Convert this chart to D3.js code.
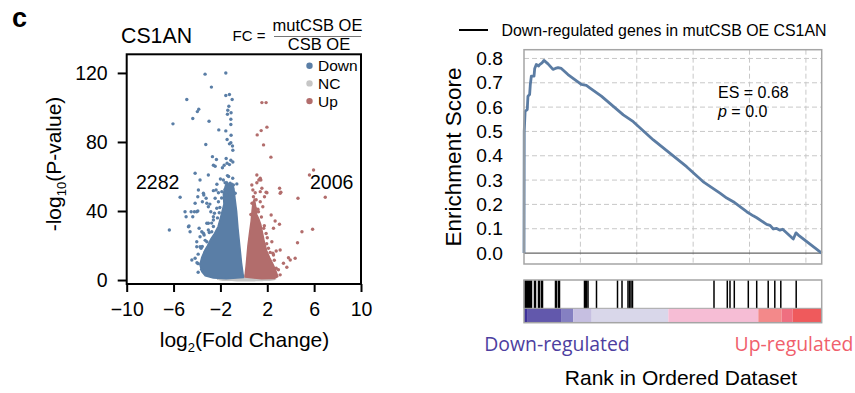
<!DOCTYPE html>
<html>
<head>
<meta charset="utf-8">
<script src="https://cdn.jsdelivr.net/npm/d3@7"></script>
<style>
  body { margin: 0; background: #fff; }
  svg { font-family: "Liberation Sans", Arial, sans-serif; }
</style>
</head>
<body>
<script>
// ---------- volcano data (log2 FC, -log10 p) ----------
var downCount = 2282, upCount = 2006;

var downPoints = [
  [-3.31,119.3],[-1.54,120],[-2.77,111.8],[-4.87,104.6],[-1.54,106.9],[-1.23,107.5],[-1.0,104.6],
  [-3.85,99],[-3.97,97.6],[-1.28,100.7],[-1.37,98.4],[-1.09,96.9],[-1.4,96.1],[-4.36,93.6],
  [-2.97,92],[-6.05,90.5],[-1.11,93.2],[-1.11,90.1],[-2.14,87],[-1.54,86.4],[-1.09,83.9],
  [-1.43,81.4],[-1.11,79.6],[-1.23,78.9],[-0.97,77.7],[-3.25,78.5],[-0.94,75.2],[-2.68,71.5],
  [-2.34,69.8],[-1.51,70.4],[-1.11,69.4],[-0.94,68.4],[-2.6,66.5],[-2.45,65.9],[-1.68,66.5],
  [-1.83,65.1],[-1.43,67.7],[-1.23,66.9],[-4.16,61.9],[-3.03,60.9],[-3.74,58],[-1.6,56.4],
  [-1.17,56.1],[-0.89,55.1],[-0.6,55.7],[-2.6,51.8],[-2.17,50.6],[-1.88,51.2],[-2.37,52.2],
  [-3.88,52.2],[-3.45,50.3],[-5.44,48],[-1.45,49.3],[-1.03,48.3],[-0.74,50.3],[-6.36,29],
  [-4.93,36.7],[-4.5,39.6],[-4.22,39.6],[-3.93,40],[-4.73,30.9],[-4.59,28],[-3.93,48.3],
  [-3.42,49.3],[-3.22,47.4],[-3.54,45.4],[-3.16,44.5],[-3.03,42.5],[-4.68,31.3],[-4.36,36.7],
  [-4.02,39.6],[-4.44,11.6],[-5.02,39.6],[-4.16,44.5],[-4.02,22.2],[-3.74,19.3],[-3.39,26.1],
  [-3.59,28],[-3.03,29],[-3.16,32.9],[-2.6,36.7],[-2.82,39.6],[-3.82,30],[-3.45,27.1],
  [-3.74,25.1],[-4.02,19.3],[-3.65,18.4],[-3.31,16.1],[-2.74,28],[-2.6,34.8],[-2.51,38.7],
  [-2.31,41.6],[-2.17,45.4],[-3.03,32.9],[-3.16,22.2],[-2.45,47.4],[-4.16,12.6],[-3.9,9.5],
  [-3.6,6.2],[-2.9,44],[-2.0,58.5],[-1.3,60],[-2.3,55.5],[-1.75,58],[-1.4,60.5],[-0.95,59],
  [-2.05,42],[-2.25,36],[-2.6,31],[-2.95,27.5],[-3.3,23],[-3.55,19.5],[-3.9,15],[-4.0,10],
  [-3.9,4.5],[-1.9,47.5],[-1.6,52.5],[-2.1,39],[-2.75,33]
];

var upPoints = [
  [1.54,102.8],[1.9,102.8],[1.97,88.6],[1.48,86.6],[1.14,84.1],[1.68,78.3],[2.31,71.2],
  [5.95,63.8],[5.6,60.9],[1.28,58],[1.11,56.4],[1.4,59],[0.68,55.1],[3.05,53.2],[0.97,50.6],
  [1.4,51.2],[1.97,50.6],[1.76,48.3],[3.1,50.3],[4.62,47.4],[6.95,48],[1.11,60.9],[1.45,58],
  [0.77,52.2],[1.54,53.2],[1.9,50.9],[0.82,48.3],[0.97,41.6],[1.4,45.4],[1.25,39.6],[1.62,42.5],
  [2.39,22.2],[2.1,18.4],[5.87,29.4],[4.96,28],[4.58,21.6],[3.04,32.3],[2.33,37.7],[2.67,34.2],
  [2.53,30],[3.1,17.4],[2.76,16.8],[2.53,14.5],[3.81,12.9],[3.96,11.6],[4.38,12.6],[3.67,7.4],
  [3.38,9.7],[2.48,15.5],[2.76,6.8],[2.39,5.8],[3.16,50.9],[1.9,27],[2.0,24.5],[1.75,31.5],
  [0.6,38],[0.7,44.5],[1.2,41],[1.5,36.5],[1.7,30],[1.95,21],[2.25,16],[2.6,11.5],[2.95,6],
  [3.1,3],[1.05,46.5]
];

// dense cores (outline of the overlapping dots)
var downCore = [
  [-0.03,1.5],[-0.2,10],[-0.35,20],[-0.5,30],[-0.62,40],[-0.75,47],[-0.85,53],[-1.0,56],
  [-1.25,55],[-1.45,57],[-1.6,54],[-1.75,50],[-1.7,44],[-1.85,40],[-2.0,36],[-2.2,31],
  [-2.5,27],[-2.8,24],[-3.1,20],[-3.35,17],[-3.6,13],[-3.75,9],[-3.6,5],[-3.3,2.5],
  [-2.6,1.2],[-1.5,0.8]
];
var upCore = [
  [0.1,1.8],[0.22,10],[0.35,20],[0.5,28],[0.62,34],[0.7,40],[0.78,45],[0.9,47],[1.0,43],
  [1.1,38],[1.3,35],[1.45,32],[1.6,27],[1.75,22],[1.95,17],[2.2,13],[2.5,9],[2.75,5],
  [2.9,2],[2.6,0.9],[1.5,0.7]
];
var ncCore = [
  [-2.3,0.2],[-1.5,1.3],[-0.6,2.6],[0,3.2],[0.6,2.4],[1.5,1.6],[2.4,0.9],[2.8,0.2],
  [2.0,-0.6],[0,-0.9],[-1.6,-0.6]
];

var volcanoXTicks = [-10, -6, -2, 2, 6, 10];
var volcanoYTicks = [0, 40, 80, 120];
var legendNames = ["Down", "NC", "Up"];

// ---------- GSEA data ----------
var nGenes = 26400;
var esRank = [0,20,100,290,350,500,560,650,890,950,1090,1300,1390,1600,1770,2130,2570,2780,3020,
  3310,3900,5080,5530,5830,6860,8806,9690,11470,14420,15870,17380,17980,18560,19750,20330,
  20640,21520,21820,22110,22410,22700,22940,23880,24120,24330,26400];
var esScore = [0,0.50,0.583,0.59,0.645,0.652,0.693,0.727,0.727,0.759,0.775,0.769,0.775,0.782,
  0.792,0.778,0.755,0.759,0.762,0.759,0.734,0.693,0.689,0.679,0.645,0.568,0.54,0.465,0.355,
  0.294,0.246,0.226,0.211,0.17,0.153,0.145,0.118,0.114,0.099,0.101,0.094,0.098,0.058,0.083,
  0.074,0];
var hitRanks = [44,133,222,310,399,488,576,665,931,1020,1286,1375,1552,1641,2793,2882,3059,
  3148,5365,5454,5543,5676,6429,8292,8691,9223,9356,9489,9622,16849,18028,18268,18649,19891,
  20636,21656,22241,22773,24138];
var heatBreaks = [0, 270, 3345, 4375, 6005, 12800, 20780, 22850, 23830, 26400];
var heatColors = ["#3e3199", "#6258ac", "#8580c2", "#c6bfe1", "#d9d7ea", "#f6bdd5",
  "#f3898a", "#ef6f80", "#ef5a5c"];
var esYTicks = [0, 0.1, 0.2, 0.3, 0.4, 0.5, 0.6, 0.7, 0.8];
var esXGrid = [5000, 10000, 15000, 20000, 25000];

var blue = "#5a7ea6", red = "#b26d6c", grey = "#c6c6c6";

var svg = d3.select("body").append("svg")
  .attr("width", 855).attr("height", 393);

// ================= volcano =================
var vx = d3.scaleLinear().domain([-10, 10]).range([126.7, 361]);
var vy = d3.scaleLinear().domain([-2.3, 130.8]).range([284, 54.3]);
var poly = d3.line().x(function(d) { return vx(d[0]); }).y(function(d) { return vy(d[1]); })
  .curve(d3.curveLinearClosed);

var vol = svg.append("g");

vol.append("path").datum(ncCore).attr("d", poly.curve(d3.curveCardinalClosed.tension(0.5)))
  .attr("fill", grey);
poly.curve(d3.curveLinearClosed);
vol.append("path").datum(downCore).attr("d", poly).attr("fill", blue)
  .attr("stroke", blue).attr("stroke-width", 1.5).attr("stroke-linejoin", "round");
vol.append("path").datum(upCore).attr("d", poly).attr("fill", red)
  .attr("stroke", red).attr("stroke-width", 1.5).attr("stroke-linejoin", "round");

vol.selectAll("circle.dn").data(downPoints).enter().append("circle")
  .attr("class", "dn")
  .attr("cx", function(d) { return vx(d[0]); })
  .attr("cy", function(d) { return vy(d[1]); })
  .attr("r", 1.7).attr("fill", blue);
vol.selectAll("circle.up").data(upPoints).enter().append("circle")
  .attr("class", "up")
  .attr("cx", function(d) { return vx(d[0]); })
  .attr("cy", function(d) { return vy(d[1]); })
  .attr("r", 1.7).attr("fill", red);

vol.append("rect")
  .attr("x", vx(-10)).attr("y", vy(130.8))
  .attr("width", vx(10) - vx(-10)).attr("height", vy(-2.3) - vy(130.8))
  .attr("fill", "none").attr("stroke", "#000").attr("stroke-width", 2);

var vxAxis = vol.append("g").attr("transform", "translate(0," + vy(-2.3) + ")")
  .call(d3.axisBottom(vx).tickValues(volcanoXTicks).tickSize(8).tickPadding(10));
var vyAxis = vol.append("g").attr("transform", "translate(" + vx(-10) + ",0)")
  .call(d3.axisLeft(vy).tickValues(volcanoYTicks).tickSize(9).tickPadding(10));
[vxAxis, vyAxis].forEach(function(a) {
  a.select(".domain").remove();
  a.selectAll(".tick line").attr("stroke", "#000").attr("stroke-width", 2);
  a.selectAll(".tick text").attr("font-size", 19.5).attr("fill", "#000")
    .attr("font-family", "Liberation Sans, Arial, sans-serif");
});

// legend
var leg = vol.append("g");
[blue, grey, red].forEach(function(c, i) {
  leg.append("circle").attr("cx", 309.5).attr("cy", 65.7 + i * 17.7).attr("r", 3.2).attr("fill", c);
  leg.append("text").attr("x", 318).attr("y", 65.7 + i * 17.7).attr("dy", "0.36em")
    .attr("font-size", 15.5).text(legendNames[i]);
});

vol.append("text").attr("x", 136).attr("y", 188.5).attr("font-size", 19.5).text(downCount);
vol.append("text").attr("x", 310).attr("y", 188.5).attr("font-size", 19.5).text(upCount);

vol.append("text").attr("x", 12).attr("y", 27).attr("font-size", 27).attr("font-weight", "bold").text("c");
vol.append("text").attr("x", 121).attr("y", 42.7).attr("font-size", 21.3).text("CS1AN");
vol.append("text").attr("x", 232.5).attr("y", 41).attr("font-size", 15).text("FC =");
vol.append("text").attr("x", 317.5).attr("y", 30.5).attr("text-anchor", "middle")
  .attr("font-size", 16.5).text("mutCSB OE");
vol.append("line").attr("x1", 274).attr("x2", 361).attr("y1", 36.5).attr("y2", 36.5)
  .attr("stroke", "#777").attr("stroke-width", 1);
vol.append("text").attr("x", 319).attr("y", 50).attr("text-anchor", "middle")
  .attr("font-size", 16.5).text("CSB OE");

var vyl = vol.append("text").attr("transform", "translate(61,164) rotate(-90)")
  .attr("text-anchor", "middle").attr("font-size", 21);
vyl.append("tspan").text("-log");
vyl.append("tspan").attr("font-size", 13).attr("dy", 5).text("10");
vyl.append("tspan").attr("dy", -5).text("(P-value)");

var vxl = vol.append("text").attr("x", 244.5).attr("y", 346.5)
  .attr("text-anchor", "middle").attr("font-size", 21);
vxl.append("tspan").text("log");
vxl.append("tspan").attr("font-size", 13).attr("dy", 5).text("2");
vxl.append("tspan").attr("dy", -5).text("(Fold Change)");

// ================= GSEA =================
var gx = d3.scaleLinear().domain([0, nGenes]).range([524, 821.7]);
var gy = d3.scaleLinear().domain([-0.045, 0.836]).range([264, 49.7]);
var gsea = svg.append("g");

gsea.selectAll("line.hg").data(esYTicks.slice(1)).enter().append("line")
  .attr("x1", gx(0)).attr("x2", gx(nGenes))
  .attr("y1", function(d) { return gy(d); }).attr("y2", function(d) { return gy(d); })
  .attr("stroke", "#c8c8c8").attr("stroke-dasharray", "5,3").attr("stroke-width", 1);
gsea.selectAll("line.vg").data(esXGrid).enter().append("line")
  .attr("x1", function(d) { return gx(d); }).attr("x2", function(d) { return gx(d); })
  .attr("y1", gy(0.836)).attr("y2", gy(-0.045))
  .attr("stroke", "#c8c8c8").attr("stroke-dasharray", "5,3").attr("stroke-width", 1);
gsea.append("line").attr("x1", gx(0)).attr("x2", gx(nGenes)).attr("y1", gy(0)).attr("y2", gy(0))
  .attr("stroke", "#666").attr("stroke-width", 1.2);

var esLine = d3.line()
  .x(function(d, i) { return gx(esRank[i]); })
  .y(function(d, i) { return gy(esScore[i]); });
gsea.append("path").datum(esScore).attr("d", esLine)
  .attr("fill", "none").attr("stroke", "#5b7ca3").attr("stroke-width", 2.8)
  .attr("stroke-linejoin", "round");

gsea.append("rect").attr("x", gx(0)).attr("y", gy(0.836))
  .attr("width", gx(nGenes) - gx(0)).attr("height", gy(-0.045) - gy(0.836))
  .attr("fill", "none").attr("stroke", "#a5a5a5").attr("stroke-width", 1.5);

var gyAxis = gsea.append("g").attr("transform", "translate(" + gx(0) + ",0)")
  .call(d3.axisLeft(gy).tickValues(esYTicks).tickFormat(d3.format(".1f")).tickSize(0).tickPadding(21));
gyAxis.select(".domain").remove();
gyAxis.selectAll(".tick text").attr("font-size", 19.2).attr("fill", "#000")
  .attr("font-family", "Liberation Sans, Arial, sans-serif");

gsea.append("text").attr("transform", "translate(461,157) rotate(-90)")
  .attr("text-anchor", "middle").attr("font-size", 22.5).text("Enrichment Score");

gsea.append("line").attr("x1", 459).attr("x2", 488).attr("y1", 30).attr("y2", 30)
  .attr("stroke", "#000").attr("stroke-width", 2);
gsea.append("text").attr("x", 501.5).attr("y", 35.5).attr("font-size", 15.9)
  .text("Down-regulated genes in mutCSB OE CS1AN");

gsea.append("text").attr("x", 718).attr("y", 98).attr("font-size", 16).text("ES = 0.68");
var pt = gsea.append("text").attr("x", 718).attr("y", 117).attr("font-size", 16);
pt.append("tspan").attr("font-style", "italic").text("p");
pt.append("tspan").text(" = 0.0");

// barcode + heat bar
var barTop = 280, barMid = 308.3, barBot = 322.7;
gsea.selectAll("rect.heat").data(heatColors).enter().append("rect")
  .attr("x", function(d, i) { return gx(heatBreaks[i]); })
  .attr("width", function(d, i) { return gx(heatBreaks[i + 1]) - gx(heatBreaks[i]); })
  .attr("y", barMid).attr("height", barBot - barMid)
  .attr("fill", function(d) { return d; });
gsea.selectAll("line.hit").data(hitRanks).enter().append("line")
  .attr("x1", function(d) { return gx(d); }).attr("x2", function(d) { return gx(d); })
  .attr("y1", barTop).attr("y2", barMid)
  .attr("stroke", "#000").attr("stroke-width", 1.5);
gsea.append("line").attr("x1", gx(0)).attr("x2", gx(nGenes)).attr("y1", barMid).attr("y2", barMid)
  .attr("stroke", "#a5a5a5").attr("stroke-width", 1);
gsea.append("rect").attr("x", gx(0)).attr("y", barTop)
  .attr("width", gx(nGenes) - gx(0)).attr("height", barBot - barTop)
  .attr("fill", "none").attr("stroke", "#a5a5a5").attr("stroke-width", 1.5);

gsea.append("text").attr("x", 557).attr("y", 351).attr("text-anchor", "middle")
  .attr("font-family", "Open Sans, sans-serif").attr("font-size", 19.4)
  .attr("fill", "#4d3ea0").text("Down-regulated");
gsea.append("text").attr("x", 794).attr("y", 351).attr("text-anchor", "middle")
  .attr("font-family", "Open Sans, sans-serif").attr("font-size", 19.4)
  .attr("fill", "#f0606c").text("Up-regulated");
gsea.append("text").attr("x", 681).attr("y", 385).attr("text-anchor", "middle")
  .attr("font-size", 21).text("Rank in Ordered Dataset");
</script>
</body>
</html>
